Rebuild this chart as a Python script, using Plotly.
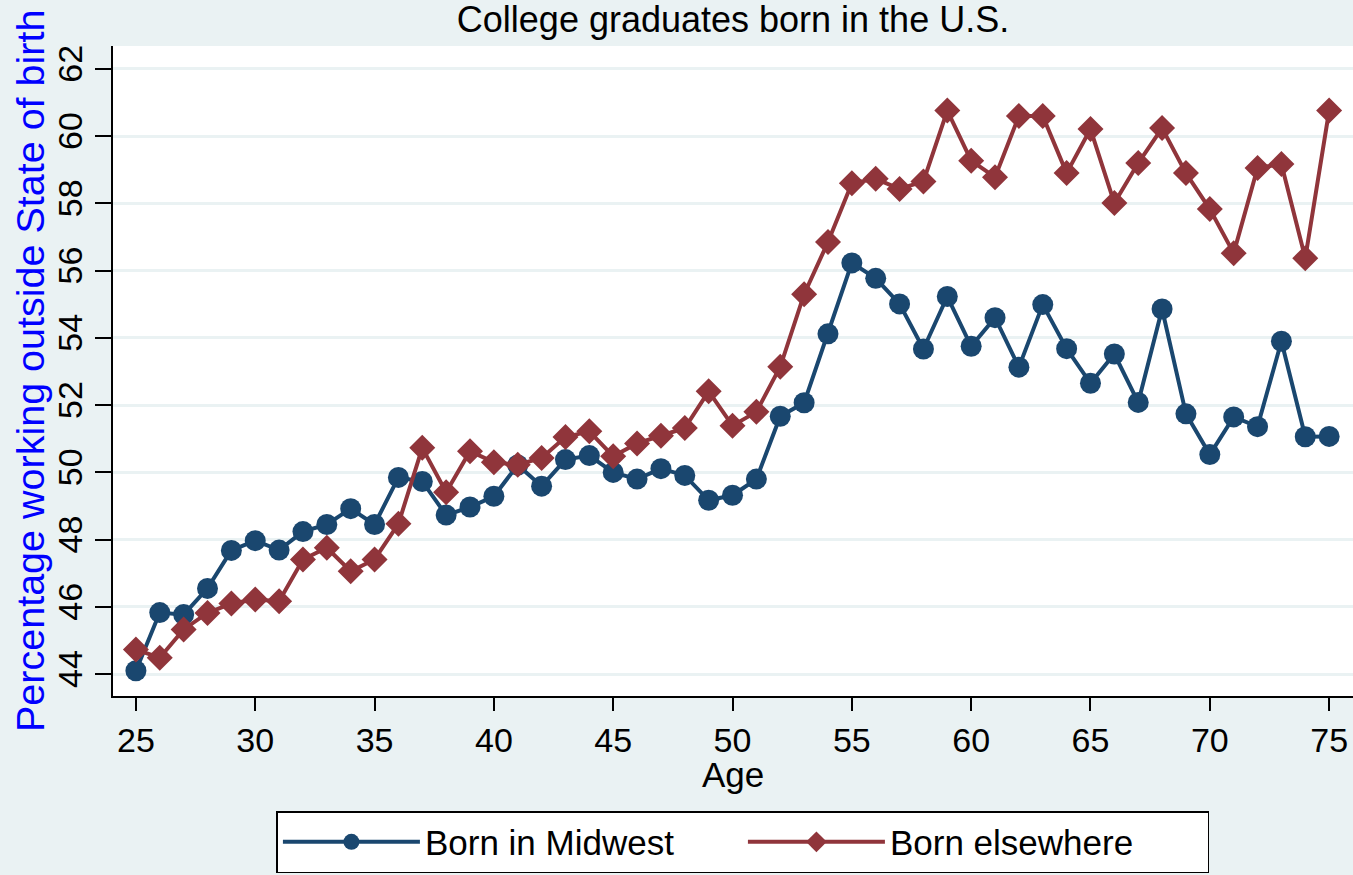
import plotly.graph_objects as go

ages = list(range(25, 76))

midwest = [44.10, 45.83, 45.77, 46.55, 47.68, 47.97, 47.69, 48.24, 48.45, 48.92,
           48.45, 49.85, 49.73, 48.73, 48.97, 49.29, 50.22, 49.59, 50.38, 50.50,
           50.00, 49.80, 50.11, 49.91, 49.17, 49.32, 49.80, 51.67, 52.07, 54.12,
           56.23, 55.77, 55.01, 53.67, 55.23, 53.75, 54.60, 53.13, 54.99, 53.68,
           52.65, 53.52, 52.08, 54.86, 51.74, 50.53, 51.65, 51.36, 53.90, 51.06,
           51.07]

elsewhere = [44.73, 44.49, 45.33, 45.82, 46.10, 46.22, 46.17, 47.41, 47.76, 47.06,
             47.41, 48.47, 50.73, 49.41, 50.63, 50.30, 50.23, 50.43, 51.05, 51.22,
             50.48, 50.86, 51.09, 51.32, 52.41, 51.39, 51.80, 53.14, 55.30, 56.85,
             58.60, 58.73, 58.43, 58.65, 60.76, 59.27, 58.78, 60.60, 60.60, 58.90,
             60.21, 58.01, 59.20, 60.24, 58.90, 57.83, 56.52, 59.05, 59.17, 56.37,
             60.76]

y_ticks = list(range(44, 63, 2))
x_ticks = list(range(25, 76, 5))

navy = '#1a476f'
maroon = '#90353b'
bg = '#eaf2f3'
font = 'Liberation Sans, Arial, sans-serif'

fig = go.Figure()
fig.add_trace(go.Scatter(x=ages, y=midwest, mode='lines+markers', name='Born in Midwest',
                         line=dict(color=navy, width=4),
                         marker=dict(symbol='circle', size=21, color=navy)))
fig.add_trace(go.Scatter(x=ages, y=elsewhere, mode='lines+markers', name='Born elsewhere',
                         line=dict(color=maroon, width=4),
                         marker=dict(symbol='diamond', size=20, color=maroon)))

# axis titles placed as annotations so they sit where Stata put them
fig.add_annotation(text='Percentage working outside State of birth', textangle=-90,
                   xref='paper', yref='paper', x=(30 - 113) / 1240, y=0.5,
                   xanchor='center', yanchor='middle', showarrow=False,
                   font=dict(size=39.5, color='#0000ff'))
fig.add_annotation(text='Age', xref='paper', yref='paper', x=0.5, y=(696 - 774) / 650,
                   xanchor='center', yanchor='middle', showarrow=False,
                   font=dict(size=35))

fig.update_layout(
    width=1353, height=875,
    margin=dict(l=113, r=0, t=46, b=179),
    paper_bgcolor=bg, plot_bgcolor='white',
    font=dict(family=font, color='black', size=34),
    title=dict(text='College graduates born in the U.S.', x=0.5, xref='paper',
               y=1 - 19 / 875, yref='container', yanchor='middle',
               font=dict(size=36)),
    showlegend=True,
    legend=dict(orientation='h', x=0.508, xanchor='center', y=-0.177, yanchor='top',
                bgcolor='white', bordercolor='black', borderwidth=1.5,
                font=dict(size=35), itemwidth=137, entrywidth=313,
                traceorder='normal'),
    xaxis=dict(range=[24.04, 76.0], tickvals=x_ticks, showgrid=False, zeroline=False,
               showline=True, linecolor='black', linewidth=1.5,
               ticks='outside', ticklen=13, tickwidth=1.5, tickcolor='black',
               ticklabelstandoff=0),
    yaxis=dict(range=[43.35, 62.68], tickvals=y_ticks, showgrid=True, gridcolor=bg,
               gridwidth=3, zeroline=False,
               showline=True, linecolor='black', linewidth=1.5,
               ticks='outside', ticklen=16, tickwidth=1.5, tickcolor='black',
               tickangle=-90, ticklabelstandoff=0),
)

fig.write_html('out.html', config={'displayModeBar': False},
               post_script="document.body.style.margin='0';")
